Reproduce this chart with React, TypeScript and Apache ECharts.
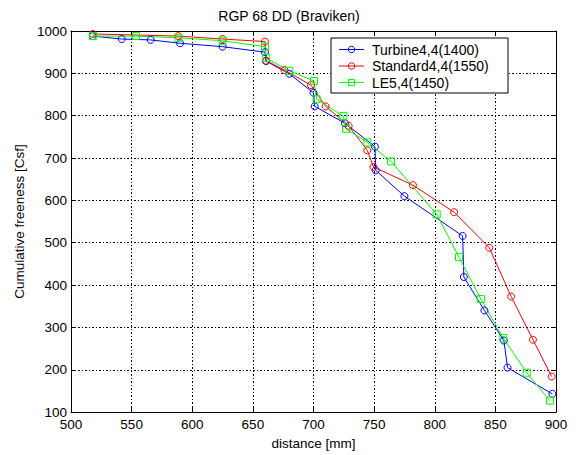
import React, { useEffect, useRef } from "react";
import * as echarts from "echarts";

const titleText = "RGP 68 DD (Braviken)";
const xLabel = "distance [mm]";
const yLabel = "Cumulative freeness [Csf]";

const turbineName = "Turbine4,4(1400)";
const turbineX = [518, 541.8, 565.7, 590, 625, 660, 660.8, 680, 700, 701, 726, 750.7, 751.3, 775, 823, 824, 841, 857, 860, 897];
const turbineY = [988, 981, 979, 971, 963, 950, 929, 899, 854, 822, 782, 727, 671, 610, 516, 419, 340, 269, 205, 143];

const standardName = "Standard4,4(1550)";
const standardX = [518, 588.5, 625, 660, 661, 676, 698, 710, 729, 744.4, 749.4, 782, 816, 845, 863, 881, 896.4];
const standardY = [993, 988, 981, 975, 930, 908, 872, 822, 776, 718, 679, 636, 572, 488, 373, 271, 184];

const leName = "LE5,4(1450)";
const leX = [518, 553.6, 588.5, 625, 660, 661, 680, 700.4, 702.6, 724.6, 726.8, 744.4, 764, 801.6, 820, 838, 856.5, 875.8, 895];
const leY = [988, 988, 984, 977, 963, 936, 906, 882, 839, 799, 769, 737, 692, 567, 466, 367, 275, 193, 127];

const BLUE = "#0000ff";
const RED = "#ff0000";
const GREEN = "#00ff00";
const FONT = "Liberation Sans, Arial, sans-serif";

function pairs(xs: number[], ys: number[]) {
  return xs.map((x, i) => [x, ys[i]]);
}

function legendRow(name: string, color: string, marker: "circle" | "rect", cy: number) {
  const els: any[] = [
    { type: "line", shape: { x1: 339, y1: cy, x2: 364, y2: cy }, style: { stroke: color, lineWidth: 1 } },
    marker === "circle"
      ? { type: "circle", shape: { cx: 351.5, cy, r: 3.2 }, style: { stroke: color, fill: "none", lineWidth: 1 } }
      : { type: "rect", shape: { x: 348.5, y: cy - 3, width: 6, height: 6 }, style: { stroke: color, fill: "none", lineWidth: 1 } },
    {
      type: "text",
      x: 372,
      y: cy,
      style: { text: name, fontFamily: FONT, fontSize: 14, fill: "#000", verticalAlign: "middle", align: "left" },
    },
  ];
  return els;
}

export default function App() {
  const ref = useRef<HTMLDivElement>(null);
  useEffect(() => {
    document.body.style.margin = "0";
    const chart = echarts.init(ref.current!, null, { renderer: "svg" });
    const gridLine = { show: true, lineStyle: { color: "#000", width: 1, type: [2, 2, 1, 2] as any } };
    const axisCommon = {
      type: "value" as const,
      axisLine: { show: true, lineStyle: { color: "#000", width: 1 } },
      axisTick: { show: true, inside: true, length: 5, lineStyle: { color: "#000" } },
    };
    const seriesBase = (name: string, xs: number[], ys: number[], color: string, symbol: string) => ({
      name,
      type: "line",
      data: pairs(xs, ys),
      symbol,
      symbolSize: 7,
      lineStyle: { color, width: 1 },
      itemStyle: { color: "rgba(255,255,255,0)", borderColor: color, borderWidth: 1 },
      emphasis: { disabled: true },
    });
    chart.setOption({
      animation: false,
      backgroundColor: "#fff",
      title: {
        text: titleText,
        left: 284,
        textAlign: "center",
        top: 4,
        textStyle: { fontFamily: FONT, fontSize: 14, fontWeight: "normal", color: "#000" },
      },
      grid: { left: 71, right: 21, top: 31, bottom: 39, containLabel: false },
      xAxis: [
        {
          ...axisCommon,
          min: 500,
          max: 900,
          interval: 50,
          name: xLabel,
          nameLocation: "middle",
          nameGap: 23,
          nameTextStyle: { fontFamily: FONT, fontSize: 13.5, color: "#000" },
          axisLabel: { fontFamily: FONT, fontSize: 13.5, color: "#000", margin: 5 },
          splitLine: gridLine,
        },
        {
          ...axisCommon,
          position: "top",
          min: 500,
          max: 900,
          interval: 50,
          axisLabel: { show: false },
          splitLine: { show: false },
        },
      ],
      yAxis: [
        {
          ...axisCommon,
          min: 100,
          max: 1000,
          interval: 100,
          name: yLabel,
          nameLocation: "middle",
          nameGap: 44,
          nameTextStyle: { fontFamily: FONT, fontSize: 13.5, color: "#000" },
          axisLabel: { fontFamily: FONT, fontSize: 13.5, color: "#000", margin: 4, formatter: (v: number) => String(v) },
          splitLine: gridLine,
        },
        {
          ...axisCommon,
          position: "right",
          min: 100,
          max: 1000,
          interval: 100,
          axisLabel: { show: false },
          splitLine: { show: false },
        },
      ],
      series: [
        seriesBase(turbineName, turbineX, turbineY, BLUE, "circle"),
        seriesBase(standardName, standardX, standardY, RED, "circle"),
        seriesBase(leName, leX, leY, GREEN, "rect"),
      ],
      graphic: [
        {
          type: "rect",
          shape: { x: 331, y: 38, width: 177, height: 55 },
          style: { fill: "#fff", stroke: "#000", lineWidth: 1 },
          z: 100,
        },
        ...legendRow(turbineName, BLUE, "circle", 49.5).map((e) => ({ ...e, z: 101 })),
        ...legendRow(standardName, RED, "circle", 66).map((e) => ({ ...e, z: 101 })),
        ...legendRow(leName, GREEN, "rect", 82.5).map((e) => ({ ...e, z: 101 })),
      ],
    });
    return () => chart.dispose();
  }, []);
  return <div ref={ref} style={{ width: 577, height: 455 }} />;
}
